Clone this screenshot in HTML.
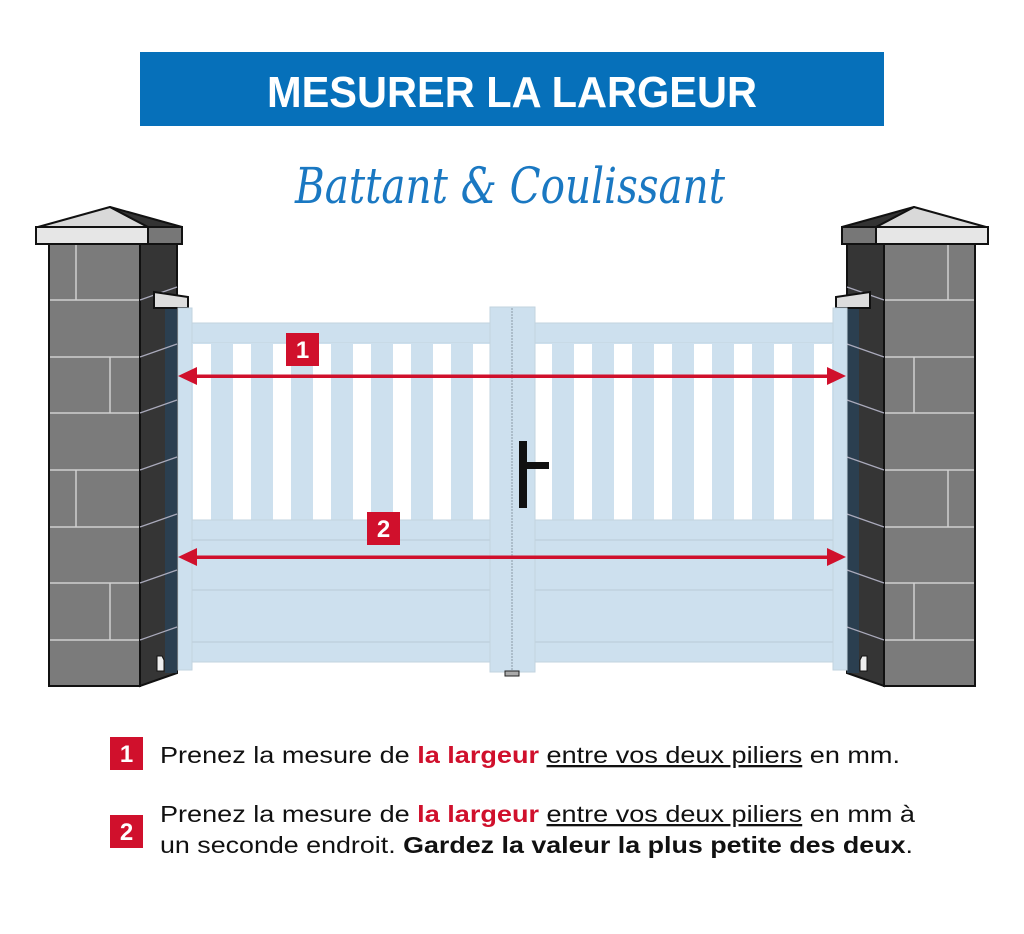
<!DOCTYPE html>
<html><head><meta charset="utf-8"><style>
html,body{margin:0;padding:0;background:#fff;}
svg{display:block;}
</style></head><body>
<svg width="1024" height="934" viewBox="0 0 1024 934" xmlns="http://www.w3.org/2000/svg">
<rect width="1024" height="934" fill="#fff"/>
<!-- Title -->
<rect x="140" y="52" width="744" height="74" fill="#0670ba"/>
<text x="512" y="107" text-anchor="middle" font-family="Liberation Sans, sans-serif" font-weight="bold" font-size="44" fill="#fff" textLength="490" lengthAdjust="spacingAndGlyphs">MESURER LA LARGEUR</text>
<text x="510" y="203" text-anchor="middle" font-family="DejaVu Serif, Liberation Serif, serif" font-style="italic" font-size="50" fill="#1a78c2" textLength="430" lengthAdjust="spacingAndGlyphs">Battant &amp; Coulissant</text>

<defs>
<g id="pillar">
  <!-- cap -->
  <polygon points="38,227 110,207 148,227" fill="#d9d9d9" stroke="#111" stroke-width="2" stroke-linejoin="round"/>
  <polygon points="110,207 182,227 148,227" fill="#333" stroke="#111" stroke-width="2" stroke-linejoin="round"/>
  <rect x="36" y="227" width="112" height="17" fill="#e6e6e6" stroke="#111" stroke-width="2"/>
  <rect x="148" y="227" width="34" height="17" fill="#777" stroke="#111" stroke-width="2"/>
  <!-- front -->
  <rect x="49" y="244" width="91" height="442" fill="#7b7b7b" stroke="#111" stroke-width="2"/>
  <g stroke="#d0d0d0" stroke-width="1.5">
    <line x1="50" y1="300" x2="140" y2="300"/><line x1="50" y1="357" x2="140" y2="357"/>
    <line x1="50" y1="413" x2="140" y2="413"/><line x1="50" y1="470" x2="140" y2="470"/>
    <line x1="50" y1="527" x2="140" y2="527"/><line x1="50" y1="583" x2="140" y2="583"/>
    <line x1="50" y1="640" x2="140" y2="640"/>
    <line x1="76" y1="245" x2="76" y2="300"/><line x1="110" y1="357" x2="110" y2="413"/>
    <line x1="76" y1="470" x2="76" y2="527"/><line x1="110" y1="583" x2="110" y2="640"/>
  </g>
  <!-- side -->
  <polygon points="140,244 177,244 177,673 140,686" fill="#353535" stroke="#111" stroke-width="2"/>
  <rect x="165" y="308" width="12" height="365" fill="#2b3f50"/>
  <g stroke="#aab" stroke-width="1.2">
    <line x1="140" y1="300" x2="177" y2="287"/><line x1="140" y1="357" x2="177" y2="344"/>
    <line x1="140" y1="413" x2="177" y2="400"/><line x1="140" y1="470" x2="177" y2="457"/>
    <line x1="140" y1="527" x2="177" y2="514"/><line x1="140" y1="583" x2="177" y2="570"/>
    <line x1="140" y1="640" x2="177" y2="627"/>
  </g>
  <polygon points="154,292 188,297 188,308 154,308" fill="#ddd" stroke="#111" stroke-width="2"/>
  <polygon points="157,656 162,656 164,660 164,671 157,671" fill="#eee" stroke="#111" stroke-width="1"/>
</g>
<g id="gate">
  <rect x="178" y="308" width="14" height="362" fill="#cde0ee" stroke="#c2d3df"/>
  <rect x="192" y="323" width="298" height="20" fill="#cde0ee" stroke="#c2d3df"/>
  <rect x="192" y="343" width="298" height="177" fill="#cde0ee"/>
  <g fill="#fff">
    <rect x="193" y="344" width="18" height="176"/><rect x="233" y="344" width="18" height="176"/>
    <rect x="273" y="344" width="18" height="176"/><rect x="313" y="344" width="18" height="176"/>
    <rect x="353" y="344" width="18" height="176"/><rect x="393" y="344" width="18" height="176"/>
    <rect x="433" y="344" width="18" height="176"/><rect x="473" y="344" width="17" height="176"/>
  </g>
  <rect x="192" y="520" width="298" height="142" fill="#cde0ee" stroke="#c2d3df"/>
  <g stroke="#c0d1dd" stroke-width="1.5">
    <line x1="192" y1="540" x2="490" y2="540"/><line x1="192" y1="590" x2="490" y2="590"/>
    <line x1="192" y1="642" x2="490" y2="642"/>
  </g>
</g>
</defs>

<use href="#pillar"/>
<use href="#pillar" transform="translate(1024,0) scale(-1,1)"/>
<use href="#gate"/>
<use href="#gate" transform="translate(1025,0) scale(-1,1)"/>
<!-- center post -->
<rect x="490" y="307" width="45" height="365" fill="#cde0ee" stroke="#c2d3df"/>
<line x1="512" y1="308" x2="512" y2="672" stroke="#8a9aa6" stroke-width="1" stroke-dasharray="2,1"/>
<rect x="505" y="671" width="14" height="5" fill="#aaa" stroke="#222" stroke-width="1"/>
<!-- handle -->
<rect x="519" y="441" width="8" height="67" fill="#111"/>
<rect x="519" y="462" width="30" height="7" fill="#111"/>

<!-- arrows -->
<g fill="#d0102c">
  <rect x="192" y="374.5" width="640" height="3.5"/>
  <polygon points="178,376 197,367 197,385"/>
  <polygon points="846,376 827,367 827,385"/>
  <rect x="192" y="555.5" width="640" height="3.5"/>
  <polygon points="178,557 197,548 197,566"/>
  <polygon points="846,557 827,548 827,566"/>
  <rect x="286" y="333" width="33" height="33"/>
  <rect x="367" y="512" width="33" height="33"/>
  <rect x="110" y="737" width="33" height="33"/>
  <rect x="110" y="815" width="33" height="33"/>
</g>
<g font-family="Liberation Sans, sans-serif" font-weight="bold" font-size="24" fill="#fff" text-anchor="middle">
  <text x="302.5" y="358">1</text>
  <text x="383.5" y="537">2</text>
  <text x="126.5" y="762">1</text>
  <text x="126.5" y="840">2</text>
</g>
<g font-family="Liberation Sans, sans-serif" font-size="23" fill="#111">
  <text x="160" y="763" textLength="740" lengthAdjust="spacingAndGlyphs">Prenez la mesure de <tspan fill="#d0102c" font-weight="bold">la largeur</tspan> <tspan text-decoration="underline">entre vos deux piliers</tspan> en mm.</text>
  <text x="160" y="822" textLength="755" lengthAdjust="spacingAndGlyphs">Prenez la mesure de <tspan fill="#d0102c" font-weight="bold">la largeur</tspan> <tspan text-decoration="underline">entre vos deux piliers</tspan> en mm à</text>
  <text x="160" y="853" textLength="753" lengthAdjust="spacingAndGlyphs">un seconde endroit. <tspan font-weight="bold">Gardez la valeur la plus petite des deux</tspan>.</text>
</g>
</svg>
</body></html>
